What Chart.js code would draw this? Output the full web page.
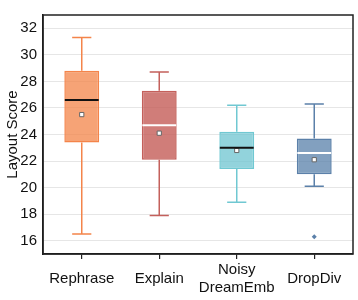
<!DOCTYPE html>
<html>
<head>
<meta charset="utf-8">
<script src="https://cdn.jsdelivr.net/npm/chart.js@4.4.1/dist/chart.umd.min.js"></script>
<style>
    html, body { margin: 0; padding: 0; background: #fff; }
</style>
</head>
<body>
<canvas id="box-chart" width="358" height="300"></canvas>
<script>
// --- Data ---
const categories = ['Rephrase', 'Explain', ['Noisy', 'DreamEmb'], 'DropDiv'];
const whiskerLow = [16.5, 17.9, 18.9, 20.1];
const q1 = [23.4, 22.1, 21.4, 21.0];
const median = [26.6, 24.7, 23.0, 22.6];
const q3 = [28.8, 27.3, 24.2, 23.7];
const whiskerHigh = [31.3, 28.7, 26.2, 26.3];
const means = [25.5, 24.1, 22.8, 22.1];
const outliers = [{ cat: 3, value: 16.3 }];
const yTicks = [16, 18, 20, 22, 24, 26, 28, 30, 32];

const lineColors = ['#f4844a', '#c4605b', '#70c8d2', '#5b80a9'];
const fillColors = [
    'rgba(243,132,72,0.75)',
    'rgba(196,92,87,0.8)',
    'rgba(110,196,208,0.75)',
    'rgba(88,128,170,0.75)',
];
const medianColors = ['#111', '#fff', '#111', '#fff'];

const FONT = "'Liberation Sans', Arial, sans-serif";
Chart.defaults.font.family = FONT;
Chart.defaults.font.size = 15;
Chart.defaults.color = '#111';

const catKey = (c) => Array.isArray(c) ? c.join(' ') : c;

// --- Whiskers, medians and frame drawn with the chart's scales ---
const boxExtras = {
    id: 'boxExtras',
    beforeDatasetsDraw(chart) {
        const ctx = chart.ctx;
        const y = chart.scales.y;
        const meta = chart.getDatasetMeta(0);
        ctx.save();
        ctx.lineWidth = 1.5;
        meta.data.forEach((bar, i) => {
            const cap = bar.width * 0.55;
            ctx.strokeStyle = lineColors[i];
            ctx.beginPath();
            ctx.moveTo(bar.x, y.getPixelForValue(q3[i]));
            ctx.lineTo(bar.x, y.getPixelForValue(whiskerHigh[i]));
            ctx.moveTo(bar.x - cap / 2, y.getPixelForValue(whiskerHigh[i]));
            ctx.lineTo(bar.x + cap / 2, y.getPixelForValue(whiskerHigh[i]));
            ctx.moveTo(bar.x, y.getPixelForValue(q1[i]));
            ctx.lineTo(bar.x, y.getPixelForValue(whiskerLow[i]));
            ctx.moveTo(bar.x - cap / 2, y.getPixelForValue(whiskerLow[i]));
            ctx.lineTo(bar.x + cap / 2, y.getPixelForValue(whiskerLow[i]));
            ctx.stroke();
        });
        ctx.restore();
    },
    afterDatasetsDraw(chart) {
        const ctx = chart.ctx;
        const y = chart.scales.y;
        const meta = chart.getDatasetMeta(0);
        ctx.save();
        ctx.lineWidth = 2;
        meta.data.forEach((bar, i) => {
            const py = y.getPixelForValue(median[i]);
            ctx.strokeStyle = medianColors[i];
            ctx.beginPath();
            ctx.moveTo(bar.x - bar.width / 2 + 0.5, py);
            ctx.lineTo(bar.x + bar.width / 2 - 0.5, py);
            ctx.stroke();
        });
        ctx.restore();
    },
    afterDraw(chart) {
        const { ctx, chartArea } = chart;
        ctx.save();
        ctx.strokeStyle = '#222';
        ctx.lineWidth = 1.5;
        ctx.strokeRect(chartArea.left, chartArea.top, chartArea.right - chartArea.left, chartArea.bottom - chartArea.top);
        ctx.restore();
    },
};

const ctx = document.getElementById('box-chart').getContext('2d');
const chart = new Chart(ctx, {
    type: 'bar',
    data: {
        labels: categories,
        datasets: [
            {
                data: q1.map((v, i) => [v, q3[i]]),
                backgroundColor: fillColors,
                borderColor: lineColors,
                borderWidth: 1.5,
                borderSkipped: false,
                categoryPercentage: 1,
                barPercentage: 0.45,
                order: 2,
            },
            {
                type: 'scatter',
                data: means.map((v, i) => ({ x: catKey(categories[i]), y: v })),
                pointStyle: 'rect',
                radius: 3,
                backgroundColor: '#fff',
                borderColor: '#666',
                borderWidth: 1,
                order: 1,
            },
            {
                type: 'scatter',
                data: outliers.map((o) => ({ x: catKey(categories[o.cat]), y: o.value })),
                pointStyle: 'rectRot',
                radius: 2.5,
                backgroundColor: lineColors[3],
                borderColor: lineColors[3],
                borderWidth: 0,
                order: 1,
            },
        ],
    },
    options: {
        responsive: false,
        animation: false,
        layout: { padding: { top: 2, right: 3, left: 0, bottom: 0 } },
        plugins: {
            legend: { display: false },
            tooltip: { enabled: false },
        },
        scales: {
            x: {
                type: 'category',
                labels: categories.map(catKey),
                offset: true,
                grid: {
                    display: true,
                    drawOnChartArea: false,
                    offset: false,
                    tickLength: 5,
                    color: '#222',
                    lineWidth: 1.2,
                },
                border: { color: '#111', width: 1.5 },
                ticks: {
                    padding: 11,
                    color: '#111',
                    maxRotation: 0,
                    autoSkip: false,
                    crossAlign: 'center',
                    font: { size: 15, lineHeight: 1.2 },
                    callback: (v, i) => categories[i],
                },
                afterFit: (s) => { s.height = 46; },
            },
            y: {
                min: 15,
                max: 33,
                afterBuildTicks: (s) => { s.ticks = yTicks.map((v) => ({ value: v })); },
                grid: {
                    color: '#e6e6e6',
                    lineWidth: 1,
                    drawTicks: false,
                },
                border: { color: '#111', width: 1.5 },
                ticks: { padding: 6, color: '#111', font: { size: 15 } },
                title: {
                    display: true,
                    text: 'Layout Score',
                    color: '#111',
                    font: { size: 15 },
                    padding: { top: 4, bottom: 0 },
                },
                afterFit: (s) => { s.width = 43; },
            },
        },
    },
    plugins: [boxExtras],
});
</script>
</body>
</html>
